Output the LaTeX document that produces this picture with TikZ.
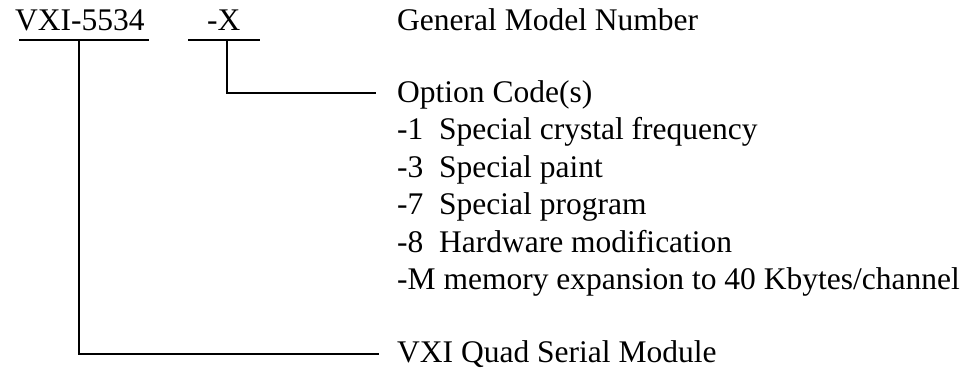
\documentclass[tikz,border=0pt]{standalone}
\usepackage{fontspec}
\setmainfont{Liberation Serif}
\begin{document}
\begin{tikzpicture}[x=1pt,y=-1pt,
  lbl/.style={anchor=base west,inner sep=0pt,font=\fontsize{31.5}{34}\selectfont},
  wire/.style={line width=2.4pt,line cap=rect}]
\useasboundingbox (0,0) rectangle (972,372);
% top labels
\node[lbl] (model) at (15,30) {VXI-5534};
\node[lbl] (opt) at (207,30) {-X};
\node[lbl] (gmn) at (397,30) {General Model Number};
% option list
\node[lbl] (oc) at (397,102) {Option Code(s)};
\node[lbl] (o1) at (397,139.5) {-1\hspace{0.5em}Special crystal frequency};
\node[lbl] (o3) at (397,177) {-3\hspace{0.5em}Special paint};
\node[lbl] (o7) at (397,214.5) {-7\hspace{0.5em}Special program};
\node[lbl] (o8) at (397,252) {-8\hspace{0.5em}Hardware modification};
\node[lbl] (oM) at (397,289.5) {-M memory expansion to 40 Kbytes/channel};
\node[lbl] (vq) at (397,362) {VXI Quad Serial Module};
% underlines
\coordinate (u1a) at (20,40);
\coordinate (u1b) at (148,40);
\coordinate (u2a) at (189,40);
\coordinate (u2b) at (259,40);
\coordinate (t1) at (79,40);
\coordinate (t2) at (227,40);
\coordinate (e2) at (375,93);
\coordinate (e1) at (378,354);
\draw[wire] (u1a) -- (u1b);
\draw[wire] (u2a) -- (u2b);
\draw[wire] (t2) |- (e2);
\draw[wire] (t1) |- (e1);
\end{tikzpicture}
\end{document}
